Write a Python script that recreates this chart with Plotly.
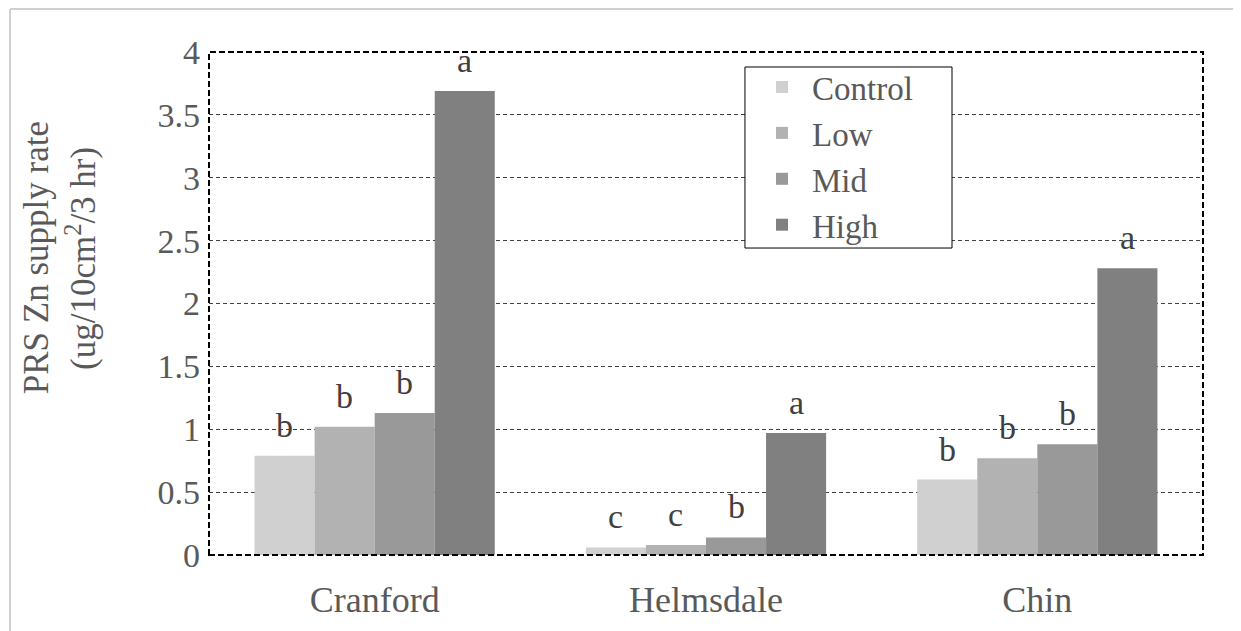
import plotly.graph_objects as go

sites = ["Cranford", "Helmsdale", "Chin"]
treatments = ["Control", "Low", "Mid", "High"]
control = [0.79, 0.06, 0.60]
low = [1.02, 0.08, 0.77]
mid = [1.13, 0.14, 0.88]
high = [3.69, 0.97, 2.28]
letters_control = ["b", "c", "b"]
letters_low = ["b", "c", "b"]
letters_mid = ["b", "b", "b"]
letters_high = ["a", "a", "a"]
colors = ["#d0d0d0", "#b2b2b2", "#999999", "#808080"]
yticks = [0, 0.5, 1, 1.5, 2, 2.5, 3, 3.5, 4]
yticklabels = ["0", "0.5", "1", "1.5", "2", "2.5", "3", "3.5", "4"]
ytitle_lines = ["PRS Zn supply rate", "(ug/10cm<sup>2</sup>/3 hr)"]

FONT = "Liberation Serif"
TXT = "#595959"

W, H = 1241, 631
ML, MR, MT, MB = 201, 46, 44, 84
BARGAP = 0.275
plot_w = W - ML - MR

fig = go.Figure()
series = [control, low, mid, high]
letters = [letters_control, letters_low, letters_mid, letters_high]
for name, vals, col in zip(treatments, series, colors):
    fig.add_trace(go.Bar(
        name=name, x=sites, y=vals, marker=dict(color=col, line=dict(width=0)),
        hoverinfo="skip",
    ))

# significance letters above each bar (offset within group derived from bar layout)
n = len(treatments)
cat_w = plot_w / len(sites)
bar_w = cat_w * (1 - BARGAP) / n
for i, (vals, lets) in enumerate(zip(series, letters)):
    dx = (i - (n - 1) / 2) * bar_w
    for s, v, l in zip(sites, vals, lets):
        fig.add_annotation(x=s, y=v, text=l, showarrow=False, xshift=dx, yshift=10,
                           xanchor="center", yanchor="bottom",
                           font=dict(family=FONT, size=34, color="#404040"))

# y-axis title lines
for k, (line, xp) in enumerate(zip(ytitle_lines, [-0.174, -0.129])):
    fig.add_annotation(xref="paper", yref="paper", x=xp, y=0.59, text=line, showarrow=False,
                       textangle=-90, xanchor="center", yanchor="middle",
                       font=dict(family=FONT, size=35, color=TXT))

fig.update_layout(
    width=W, height=H,
    margin=dict(l=ML, r=MR, t=MT, b=MB),
    paper_bgcolor="white", plot_bgcolor="white",
    barmode="group", bargap=BARGAP, bargroupgap=0,
    font=dict(family=FONT, color=TXT, size=34),
    legend=dict(
        x=0.5463, y=0.986, xanchor="left", yanchor="top",
        bgcolor="rgba(0,0,0,0)", borderwidth=0,
        font=dict(family=FONT, size=33, color=TXT),
        itemwidth=50, tracegroupgap=0,
    ),
    showlegend=True,
)
fig.update_xaxes(
    showgrid=False, showline=False, ticks="", zeroline=False,
    tickfont=dict(family=FONT, size=36, color=TXT), ticklabelstandoff=20,
)
fig.update_yaxes(
    range=[0, 4], tickvals=yticks, ticktext=yticklabels,
    showgrid=True, gridcolor="#404040", gridwidth=1, griddash="4px,3px",
    zeroline=False, showline=False, ticks="",
    tickfont=dict(family=FONT, size=34, color=TXT), ticklabelstandoff=8,
    automargin=False,
)
# dashed plot frame
fig.add_shape(type="rect", xref="paper", yref="paper", x0=0, x1=1, y0=0, y1=1,
              line=dict(color="black", width=2, dash="6px,3px"), layer="above")
# legend box
fig.add_shape(type="rect", xref="paper", yref="paper", x0=0.5392, x1=0.7475, y0=0.6103, y1=0.9702,
              line=dict(color="black", width=1), fillcolor="white", layer="above")
# light outer border (left and top edges of the chart area)
fig.add_shape(type="line", xref="paper", yref="paper", x0=-0.2002, x1=-0.2002, y0=-0.2, y1=1.0855,
              line=dict(color="#d0d0d0", width=2), layer="above")
fig.add_shape(type="line", xref="paper", yref="paper", x0=-0.2002, x1=1.05, y0=1.0855, y1=1.0855,
              line=dict(color="#d0d0d0", width=2), layer="above")

fig.write_html("out.html")
